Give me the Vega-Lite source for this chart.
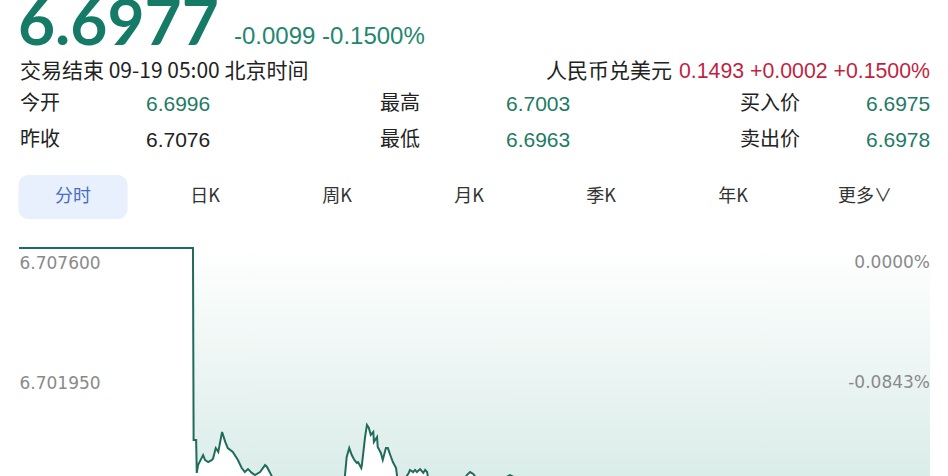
{
  "$schema": "https://vega.github.io/schema/vega-lite/v6.json",
  "width": 948,
  "height": 476,
  "autosize": "none",
  "padding": 0,
  "background": "#ffffff",
  "config": {
    "view": {"stroke": null},
    "text": {"font": "Noto Sans CJK SC"},
    "locale": {
      "number": {"decimal": ".", "thousands": ",", "grouping": [3], "currency": ["$", ""], "minus": "-", "percent": "%"}
    }
  },
  "datasets": {
    "header": [
      {"item": "last", "text": "6.6977"},
      {"item": "change", "text": "-0.0099 -0.1500%"},
      {"item": "status", "text": "交易结束 09-19 05:00 北京时间"},
      {"item": "inverse_name", "text": "人民币兑美元"},
      {"item": "inverse_quote", "text": "0.1493 +0.0002 +0.1500%"}
    ],
    "quote": [
      {"name": "今开", "value": 6.6996, "section": "open", "line": "1"},
      {"name": "昨收", "value": 6.7076, "section": "open", "line": "2"},
      {"name": "最高", "value": 6.7003, "section": "range", "line": "1"},
      {"name": "最低", "value": 6.6963, "section": "range", "line": "2"},
      {"name": "买入价", "value": 6.6975, "section": "book", "line": "1"},
      {"name": "卖出价", "value": 6.6978, "section": "book", "line": "2"}
    ],
    "tabs": [
      {"tab": "分时", "menu": "period", "active": true},
      {"tab": "日K", "menu": "period", "active": false},
      {"tab": "周K", "menu": "period", "active": false},
      {"tab": "月K", "menu": "period", "active": false},
      {"tab": "季K", "menu": "period", "active": false},
      {"tab": "年K", "menu": "period", "active": false},
      {"tab": "更多∨", "menu": "period", "active": false}
    ],
    "levels": [
      {"level": "prev_close", "price": 6.7076, "change": 0},
      {"level": "grid", "price": 6.701946, "change": -0.000843}
    ],
    "intraday": [
      {"minute": 0, "price": 6.7076},
      {"minute": 275, "price": 6.7076},
      {"minute": 276, "price": 6.69856},
      {"minute": 280, "price": 6.69856},
      {"minute": 281, "price": 6.69701},
      {"minute": 283, "price": 6.69738},
      {"minute": 291, "price": 6.69785},
      {"minute": 294, "price": 6.69762},
      {"minute": 299, "price": 6.69752},
      {"minute": 305, "price": 6.69762},
      {"minute": 307, "price": 6.69771},
      {"minute": 311, "price": 6.69818},
      {"minute": 315, "price": 6.698},
      {"minute": 321, "price": 6.69894},
      {"minute": 326, "price": 6.69847},
      {"minute": 330, "price": 6.69818},
      {"minute": 338, "price": 6.698},
      {"minute": 346, "price": 6.69762},
      {"minute": 352, "price": 6.69724},
      {"minute": 357, "price": 6.69705},
      {"minute": 362, "price": 6.69719},
      {"minute": 368, "price": 6.69701},
      {"minute": 373, "price": 6.69691},
      {"minute": 381, "price": 6.69705},
      {"minute": 389, "price": 6.69738},
      {"minute": 392, "price": 6.69729},
      {"minute": 397, "price": 6.69701},
      {"minute": 401, "price": 6.69677},
      {"minute": 428, "price": 6.69658},
      {"minute": 444, "price": 6.69649},
      {"minute": 476, "price": 6.69663},
      {"minute": 507, "price": 6.69654},
      {"minute": 515, "price": 6.69682},
      {"minute": 518, "price": 6.69776},
      {"minute": 522, "price": 6.69818},
      {"minute": 526, "price": 6.69785},
      {"minute": 530, "price": 6.69762},
      {"minute": 534, "price": 6.69748},
      {"minute": 536, "price": 6.69752},
      {"minute": 541, "price": 6.69724},
      {"minute": 542, "price": 6.69738},
      {"minute": 547, "price": 6.6987},
      {"minute": 550, "price": 6.69927},
      {"minute": 553, "price": 6.69913},
      {"minute": 556, "price": 6.6988},
      {"minute": 560, "price": 6.69894},
      {"minute": 561, "price": 6.69847},
      {"minute": 566, "price": 6.6987},
      {"minute": 567, "price": 6.69823},
      {"minute": 572, "price": 6.69795},
      {"minute": 575, "price": 6.69762},
      {"minute": 580, "price": 6.69818},
      {"minute": 583, "price": 6.69818},
      {"minute": 588, "price": 6.69776},
      {"minute": 591, "price": 6.69752},
      {"minute": 596, "price": 6.69724},
      {"minute": 598, "price": 6.69677},
      {"minute": 607, "price": 6.69658},
      {"minute": 616, "price": 6.69701},
      {"minute": 618, "price": 6.69715},
      {"minute": 623, "price": 6.69705},
      {"minute": 626, "price": 6.69715},
      {"minute": 629, "price": 6.69705},
      {"minute": 634, "price": 6.69719},
      {"minute": 639, "price": 6.69701},
      {"minute": 642, "price": 6.69715},
      {"minute": 645, "price": 6.69705},
      {"minute": 647, "price": 6.69672},
      {"minute": 665, "price": 6.69649},
      {"minute": 689, "price": 6.69663},
      {"minute": 705, "price": 6.69677},
      {"minute": 708, "price": 6.69691},
      {"minute": 713, "price": 6.69705},
      {"minute": 718, "price": 6.69696},
      {"minute": 724, "price": 6.69672},
      {"minute": 745, "price": 6.69654},
      {"minute": 768, "price": 6.69677},
      {"minute": 776, "price": 6.69691},
      {"minute": 782, "price": 6.69682},
      {"minute": 792, "price": 6.69658},
      {"minute": 855, "price": 6.69649},
      {"minute": 918, "price": 6.69663},
      {"minute": 997, "price": 6.69644},
      {"minute": 1077, "price": 6.69658},
      {"minute": 1156, "price": 6.69639},
      {"minute": 1235, "price": 6.69654},
      {"minute": 1314, "price": 6.69644},
      {"minute": 1393, "price": 6.69658},
      {"minute": 1440, "price": 6.69654}
    ]
  },
  "layer": [
    {
      "data": {"name": "header"},
      "transform": [{"filter": "datum.item == 'last'"}],
      "mark": {"type": "text", "font": "Lato", "fontSize": 64, "fontWeight": "bold", "align": "left", "baseline": "alphabetic", "color": "#157a66", "clip": true},
      "encoding": {
        "x": {"field": "item", "type": "nominal", "axis": null, "scale": {"type": "point", "range": [18, 18]}},
        "y": {"field": "item", "type": "nominal", "axis": null, "scale": {"type": "point", "range": [45, 45]}},
        "text": {"field": "text"}
      }
    },
    {
      "data": {"name": "header"},
      "transform": [{"filter": "datum.item == 'change'"}],
      "mark": {"type": "text", "font": "Liberation Sans", "fontSize": 24, "align": "left", "baseline": "alphabetic", "color": "#23876e"},
      "encoding": {
        "x": {"field": "item", "type": "nominal", "axis": null, "scale": {"type": "point", "range": [234, 234]}},
        "y": {"field": "item", "type": "nominal", "axis": null, "scale": {"type": "point", "range": [44, 44]}},
        "text": {"field": "text"}
      }
    },
    {
      "data": {"name": "header"},
      "transform": [{"filter": "datum.item == 'status'"}],
      "mark": {"type": "text", "fontSize": 21, "align": "left", "baseline": "middle", "color": "#222222"},
      "encoding": {
        "x": {"field": "item", "type": "nominal", "axis": null, "scale": {"type": "point", "range": [20, 20]}},
        "y": {"field": "item", "type": "nominal", "axis": null, "scale": {"type": "point", "range": [72, 72]}},
        "text": {"field": "text"}
      }
    },
    {
      "data": {"name": "header"},
      "transform": [{"filter": "datum.item == 'inverse_name'"}],
      "mark": {"type": "text", "fontSize": 21, "align": "right", "baseline": "middle", "color": "#222222"},
      "encoding": {
        "x": {"field": "item", "type": "nominal", "axis": null, "scale": {"type": "point", "range": [672, 672]}},
        "y": {"field": "item", "type": "nominal", "axis": null, "scale": {"type": "point", "range": [72, 72]}},
        "text": {"field": "text"}
      }
    },
    {
      "data": {"name": "header"},
      "transform": [{"filter": "datum.item == 'inverse_quote'"}],
      "mark": {"type": "text", "font": "Liberation Sans", "fontSize": 21.3, "align": "right", "baseline": "middle", "color": "#c21f3f"},
      "encoding": {
        "x": {"field": "item", "type": "nominal", "axis": null, "scale": {"type": "point", "range": [930, 930]}},
        "y": {"field": "item", "type": "nominal", "axis": null, "scale": {"type": "point", "range": [72, 72]}},
        "text": {"field": "text"}
      }
    },
    {
      "data": {"name": "quote"},
      "mark": {"type": "text", "fontSize": 20, "align": "left", "baseline": "middle", "color": "#222222"},
      "encoding": {
        "x": {"field": "section", "type": "nominal", "axis": null, "scale": {"type": "point", "domain": ["open", "range", "book"], "range": [20, 740], "padding": 0}},
        "y": {"field": "line", "type": "nominal", "axis": null, "scale": {"type": "point", "domain": ["1", "2"], "range": [104, 140], "padding": 0}},
        "text": {"field": "name"}
      }
    },
    {
      "data": {"name": "quote"},
      "mark": {"type": "text", "font": "Liberation Sans", "fontSize": 21, "align": "left", "baseline": "middle"},
      "encoding": {
        "x": {"field": "section", "type": "nominal", "axis": null, "scale": {"type": "point", "domain": ["open", "range", "book"], "range": [146, 866], "padding": 0}},
        "y": {"field": "line", "type": "nominal", "axis": null, "scale": {"type": "point", "domain": ["1", "2"], "range": [105, 141], "padding": 0}},
        "text": {"field": "value", "type": "quantitative", "format": ".4f"},
        "color": {"condition": {"test": "datum.value < 6.7076", "value": "#1e7b65"}, "value": "#222222"}
      }
    },
    {
      "data": {"name": "tabs"},
      "transform": [{"filter": "datum.active"}],
      "mark": {"type": "rect", "width": 109, "height": 44, "cornerRadius": 10, "color": "#e7f0fc"},
      "encoding": {
        "x": {"field": "tab", "type": "nominal", "axis": null, "scale": {"type": "point", "domain": ["分时", "日K", "周K", "月K", "季K", "年K", "更多∨"], "range": [73, 865], "padding": 0}},
        "y": {"field": "menu", "type": "nominal", "axis": null, "scale": {"type": "point", "range": [197, 197]}}
      }
    },
    {
      "data": {"name": "tabs"},
      "mark": {"type": "text", "fontSize": 18, "align": "center", "baseline": "middle"},
      "encoding": {
        "x": {"field": "tab", "type": "nominal", "axis": null, "scale": {"type": "point", "domain": ["分时", "日K", "周K", "月K", "季K", "年K", "更多∨"], "range": [73, 865], "padding": 0}},
        "y": {"field": "menu", "type": "nominal", "axis": null, "scale": {"type": "point", "range": [197, 197]}},
        "text": {"field": "tab"},
        "color": {"condition": {"test": "datum.active", "value": "#4a6cc2"}, "value": "#333333"}
      }
    },
    {
      "data": {"name": "intraday"},
      "mark": {
        "type": "area",
        "clip": true,
        "line": false,
        "fill": {
          "gradient": "linear",
          "x1": 0, "y1": 0, "x2": 0, "y2": 1,
          "stops": [
            {"offset": 0, "color": "#ffffff"},
            {"offset": 1, "color": "#d9ece8"}
          ]
        }
      },
      "encoding": {
        "x": {"field": "minute", "type": "quantitative", "axis": null, "scale": {"domain": [0, 1440], "range": [19, 930], "nice": false, "zero": false}},
        "y": {"field": "price", "type": "quantitative", "axis": null, "scale": {"domain": [6.6963, 6.7076], "range": [488, 248], "nice": false, "zero": false}},
        "y2": {"datum": 6.7076}
      }
    },
    {
      "data": {"name": "intraday"},
      "mark": {"type": "line", "clip": true, "color": "#1f6b5c", "strokeWidth": 2},
      "encoding": {
        "x": {"field": "minute", "type": "quantitative", "axis": null, "scale": {"domain": [0, 1440], "range": [19, 930], "nice": false, "zero": false}},
        "y": {
          "field": "price", "type": "quantitative",
          "scale": {"domain": [6.6963, 6.7076], "range": [488, 248], "nice": false, "zero": false},
          "axis": {
            "orient": "left", "title": null, "values": [6.7076, 6.701946],
            "labelExpr": "format(datum.value, '.5f') + '0'",
            "ticks": false, "domain": false, "grid": false,
            "labelAlign": "left", "labelBaseline": "middle", "labelPadding": -19, "labelOffset": 15,
            "labelFont": "DejaVu Sans", "labelFontSize": 17, "labelColor": "#8a8a8a"
          }
        }
      }
    },
    {
      "data": {"name": "levels"},
      "mark": {"type": "text", "font": "DejaVu Sans", "fontSize": 17, "align": "right", "baseline": "middle", "dy": 15, "color": "#8a8a8a"},
      "encoding": {
        "x": {"datum": 1440, "type": "quantitative", "axis": null, "scale": {"domain": [0, 1440], "range": [19, 930], "nice": false, "zero": false}},
        "y": {"field": "price", "type": "quantitative", "axis": null, "scale": {"domain": [6.6963, 6.7076], "range": [488, 248], "nice": false, "zero": false}},
        "text": {"field": "change", "type": "quantitative", "format": ".4%"}
      }
    }
  ],
  "resolve": {
    "scale": {"x": "independent", "y": "independent", "color": "independent"},
    "axis": {"x": "independent", "y": "independent"}
  }
}
